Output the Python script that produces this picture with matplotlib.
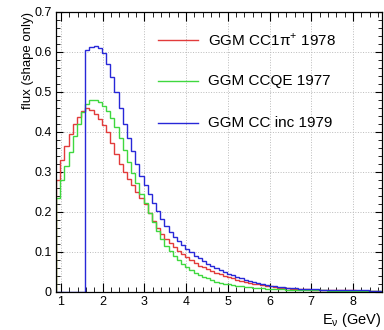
import matplotlib

matplotlib.use("Agg")
import matplotlib.pyplot as plt
import numpy as np
from matplotlib.ticker import FuncFormatter, MultipleLocator

# бины по энергии нейтрино, ГэВ
E_LO, E_STEP = 0.88, 0.1

cc1pi = [0.28, 0.33, 0.365, 0.395, 0.42, 0.438, 0.452, 0.459, 0.455, 0.444,
         0.432, 0.418, 0.40, 0.372, 0.345, 0.32, 0.30, 0.283, 0.267, 0.25,
         0.235, 0.22, 0.198, 0.178, 0.16, 0.145, 0.132, 0.122, 0.112, 0.103,
         0.094, 0.087, 0.079, 0.072, 0.066, 0.062, 0.057, 0.052, 0.048, 0.044,
         0.041, 0.037, 0.034, 0.031, 0.028, 0.026, 0.023, 0.021, 0.019, 0.017,
         0.015, 0.014, 0.012, 0.011, 0.010, 0.009, 0.0085, 0.008, 0.0075, 0.007,
         0.0065, 0.006, 0.0058, 0.0055, 0.0052, 0.005, 0.0048, 0.0046, 0.0044, 0.0042,
         0.004, 0.0038, 0.0036, 0.0035, 0.0034, 0.0033, 0.0032, 0.0031]
ccqe = [0.235, 0.28, 0.315, 0.35, 0.39, 0.42, 0.45, 0.47, 0.48, 0.481,
        0.475, 0.465, 0.452, 0.434, 0.412, 0.385, 0.355, 0.325, 0.298, 0.272,
        0.245, 0.222, 0.198, 0.175, 0.152, 0.133, 0.115, 0.102, 0.09, 0.08,
        0.07, 0.062, 0.055, 0.048, 0.043, 0.038, 0.034, 0.030, 0.026, 0.023,
        0.021, 0.019, 0.017, 0.015, 0.014, 0.013, 0.012, 0.011, 0.010, 0.009,
        0.0085, 0.008, 0.0075, 0.007, 0.0065, 0.006, 0.0057, 0.0054, 0.0051, 0.0048,
        0.0046, 0.0044, 0.0042, 0.004, 0.0038, 0.0037, 0.0036, 0.0035, 0.0034, 0.0033,
        0.0032, 0.0031, 0.003, 0.003, 0.0029, 0.0029, 0.0028, 0.0028]
ccinc = [0, 0, 0, 0, 0, 0, 0, 0.605, 0.613, 0.614,
         0.61, 0.598, 0.57, 0.538, 0.50, 0.46, 0.42, 0.385, 0.352, 0.32,
         0.29, 0.268, 0.245, 0.222, 0.202, 0.183, 0.165, 0.15, 0.138, 0.127,
         0.117, 0.108, 0.099, 0.091, 0.084, 0.077, 0.071, 0.065, 0.06, 0.055,
         0.05, 0.046, 0.042, 0.038, 0.034, 0.031, 0.028, 0.025, 0.022, 0.02,
         0.018, 0.016, 0.014, 0.013, 0.012, 0.011, 0.010, 0.009, 0.0085, 0.008,
         0.0075, 0.007, 0.0066, 0.0062, 0.0058, 0.0055, 0.0052, 0.005, 0.0048, 0.0046,
         0.0044, 0.0042, 0.004, 0.0039, 0.0038, 0.0037, 0.0036, 0.0035]

labels = ["GGM CC1π$^{+}$ 1978", "GGM CCQE 1977", "GGM CC inc 1979"]
colors = ["#e23b3b", "#3fd83f", "#2828d8"]

plt.rcParams["font.family"] = ["Liberation Sans", "DejaVu Sans"]
plt.rcParams["mathtext.fontset"] = "custom"
plt.rcParams["mathtext.rm"] = "Liberation Sans"

fig = plt.figure(figsize=(3.84, 3.30), dpi=100)
ax = fig.add_axes([56 / 384, 38 / 330, 325.7 / 384, 280 / 330])

edges = E_LO + E_STEP * np.arange(len(cc1pi) + 1)
for vals, c in zip([cc1pi, ccqe, ccinc], colors):
    ax.stairs(vals, edges, baseline=0, color=c, lw=1.0, zorder=2)

ax.set_xlim(0.88, 8.69)
ax.set_ylim(0, 0.7)
ax.xaxis.set_major_locator(MultipleLocator(1))
ax.xaxis.set_minor_locator(MultipleLocator(0.2))
ax.yaxis.set_major_locator(MultipleLocator(0.1))
ax.yaxis.set_minor_locator(MultipleLocator(0.02))
ax.yaxis.set_major_formatter(FuncFormatter(
    lambda v, _: "0" if abs(v) < 1e-9 else f"{v:.1f}"))
ax.grid(True, which="major", color="#bbbbbb", ls=":", lw=0.7)
ax.tick_params(which="both", direction="in", top=True, right=True,
               labelsize=9, colors="black", pad=3)
ax.tick_params(axis="x", which="major", length=6.5)
ax.tick_params(axis="x", which="minor", length=3.3)
ax.tick_params(axis="y", which="major", length=5)
ax.tick_params(axis="y", which="minor", length=2.8)
for s in ax.spines.values():
    s.set_linewidth(0.9)

ax.set_ylabel("flux (shape only)", fontsize=9.5, loc="top")
ax.yaxis.set_label_coords(-0.068, 1.0)
ax.set_xlabel(r"E$_\mathregular{ν}$ (GeV)", fontsize=10.5, loc="right")
ax.xaxis.set_label_coords(1.0, -0.068)

# легенда без рамки, как в ROOT
for k, (lab, c) in enumerate(zip(labels, colors)):
    y = 0.9 - 0.148 * k
    ax.plot([0.313, 0.436], [y, y], color=c, lw=1.0, transform=ax.transAxes)
    ax.text(0.467, y, lab, transform=ax.transAxes, fontsize=11, va="center")

fig.savefig("out.png", dpi=100)
